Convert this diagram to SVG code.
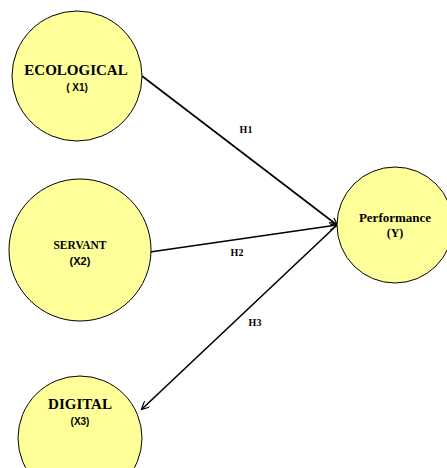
<svg xmlns="http://www.w3.org/2000/svg" width="447" height="468" viewBox="0 0 447 468">
<style>
.node{fill:#ffff99;stroke:#000;stroke-width:1}
.t{font-family:"Liberation Serif",serif;font-weight:bold;fill:#000;text-anchor:middle}
.s{font-family:"Liberation Sans",sans-serif;font-weight:bold;fill:#000;text-anchor:middle}
.c{stroke:#000;stroke-width:1.6;fill:none}
</style>
<defs>
<marker id="arr" viewBox="0 0 10 10" refX="9" refY="5" markerWidth="8" markerHeight="8" markerUnits="userSpaceOnUse" orient="auto">
<path d="M0,0 L10,5 L0,10" fill="none" stroke="#000" stroke-width="1.5"/>
</marker>
</defs>
<rect width="447" height="468" fill="#fff"/>
<g id="connectors">
<line class="c" x1="142" y1="76" x2="337" y2="225" marker-end="url(#arr)"/>
<line class="c" x1="150" y1="252" x2="337" y2="225" marker-end="url(#arr)"/>
<line class="c" x1="337" y1="225" x2="142" y2="409" marker-end="url(#arr)"/>
<text class="t" x="246" y="133" font-size="10">H1</text>
<text class="t" x="237" y="256" font-size="10">H2</text>
<text class="t" x="255" y="326" font-size="10">H3</text>
</g>
<g id="ecological">
<circle class="node" cx="77" cy="76" r="65"/>
<text class="t" x="76" y="75" font-size="15">ECOLOGICAL</text>
<text class="s" x="77" y="91" font-size="10">( X1)</text>
</g>
<g id="servant">
<circle class="node" cx="80" cy="250" r="71"/>
<text class="t" x="80" y="249" font-size="11.5">SERVANT</text>
<text class="s" x="80" y="265" font-size="11">(X2)</text>
</g>
<g id="digital">
<circle class="node" cx="80" cy="438" r="62"/>
<text class="t" x="80" y="409" font-size="15">DIGITAL</text>
<text class="s" x="80" y="425" font-size="10">(X3)</text>
</g>
<g id="performance">
<circle class="node" cx="395" cy="225" r="58"/>
<text class="t" x="395" y="222" font-size="13">Performance</text>
<text class="t" x="395" y="237" font-size="12">(Y)</text>
</g>
</svg>
